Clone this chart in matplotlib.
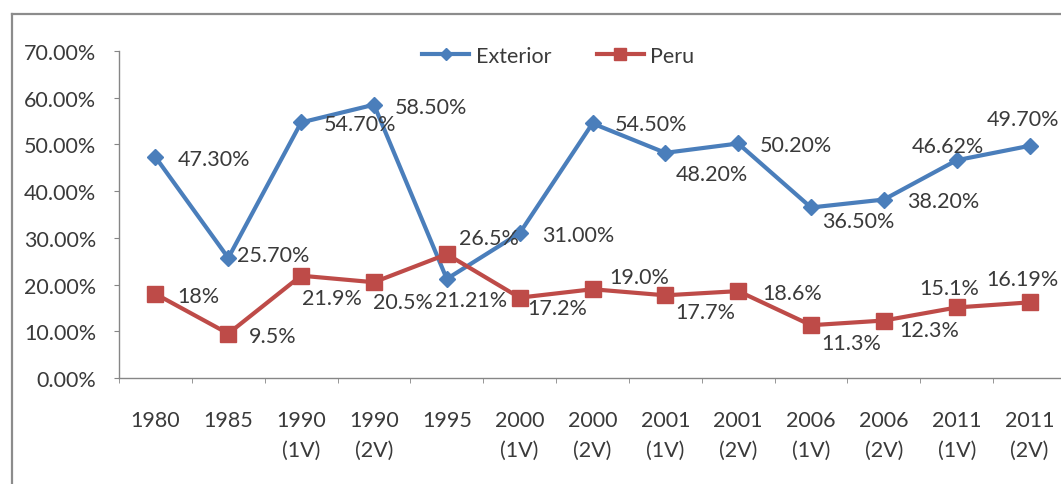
import numpy as np
import matplotlib
matplotlib.use("Agg")
import matplotlib.pyplot as plt
from matplotlib.lines import Line2D

plt.rcParams['font.family'] = ['Lato', 'DejaVu Sans']

categories = ['1980', '1985', '1990\n(1V)', '1990\n(2V)', '1995', '2000\n(1V)', '2000\n(2V)',
              '2001\n(1V)', '2001\n(2V)', '2006\n(1V)', '2006\n(2V)', '2011\n(1V)', '2011\n(2V)']
exterior = [47.30, 25.70, 54.70, 58.50, 21.21, 31.00, 54.50, 48.20, 50.20, 36.50, 38.20, 46.62, 49.70]
peru = [18.0, 9.5, 21.9, 20.5, 26.5, 17.2, 19.0, 17.7, 18.6, 11.3, 12.3, 15.1, 16.19]
exterior_labels = ['47.30%', '25.70%', '54.70%', '58.50%', '21.21%', '31.00%', '54.50%',
                   '48.20%', '50.20%', '36.50%', '38.20%', '46.62%', '49.70%']
peru_labels = ['18%', '9.5%', '21.9%', '20.5%', '26.5%', '17.2%', '19.0%',
               '17.7%', '18.6%', '11.3%', '12.3%', '15.1%', '16.19%']

# label offsets from the point, pixels (x right, y down), text left edge / vertical centre
ext_off = [(22, 2), (9, -3), (23, 2), (21, 2), (-12, 21), (22, 2), (22, 1),
           (10, 21), (22, 2), (11, 14), (23, 1), (-45, -14), (-43, -27)]
peru_off = [(22, 2), (21, 2), (1, 22), (-1, 20), (12, -16), (8, 10), (17, -12),
            (10, 17), (24, 2), (10, 18), (15, 9), (-37, -19), (-43, -23)]

BLUE = '#4A7EBB'
RED = '#BE4B48'
TXT = '#3a3a3a'
GRID = '#868686'
FS = 15.5

W, H = 1061, 485
fig = plt.figure(figsize=(W / 100, H / 100), dpi=100)
fig.patch.set_facecolor('white')

# outer chart frame (only left and top edges visible)
fig.add_artist(Line2D([12 / W, 12 / W], [0, 1 - 15 / H], color='#8c8c8c', lw=1.6))
fig.add_artist(Line2D([12 / W, 1], [1 - 15 / H, 1 - 15 / H], color='#8c8c8c', lw=1.6))

ax = fig.add_axes([119 / W, 1 - 379 / H, (1066 - 119) / W, (379 - 52) / H])
x = np.arange(len(categories))

ax.plot(x, exterior, color=BLUE, lw=3, marker='D', ms=8.5, mfc=BLUE, mec=BLUE,
        clip_on=False, zorder=3)
ax.plot(x, peru, color=RED, lw=3, marker='s', ms=11, mfc=RED, mec=RED,
        clip_on=False, zorder=3)

for xi, v, t, (dx, dy) in zip(x, exterior, exterior_labels, ext_off):
    ax.annotate(t, (xi, v), xytext=(dx, -dy), textcoords='offset pixels',
                ha='left', va='center', fontsize=FS, color=TXT, zorder=4)
for xi, v, t, (dx, dy) in zip(x, peru, peru_labels, peru_off):
    ax.annotate(t, (xi, v), xytext=(dx, -dy), textcoords='offset pixels',
                ha='left', va='center', fontsize=FS, color=TXT, zorder=4)

ax.set_xlim(-0.5, len(categories) - 0.5)
ax.set_ylim(0, 70)
ax.set_yticks(np.arange(0, 71, 10))
ax.set_yticklabels([f'{v:.2f}%' for v in np.arange(0, 71, 10)])
ax.set_xticks(x)
ax.set_xticklabels(categories, linespacing=1.6)
ax.set_xticks(np.arange(-0.5, len(categories), 1), minor=True)

for s in ['top', 'right']:
    ax.spines[s].set_visible(False)
for s in ['left', 'bottom']:
    ax.spines[s].set_color(GRID)
    ax.spines[s].set_linewidth(1)

ax.tick_params(axis='y', direction='out', length=3.6, color=GRID, pad=13,
               labelsize=FS, labelcolor=TXT)
ax.tick_params(axis='x', which='major', length=0, pad=23, labelsize=FS, labelcolor=TXT)
ax.tick_params(axis='x', which='minor', direction='out', length=3.6, color=GRID)

# legend uses smaller markers than the plot, like the original
h1 = Line2D([], [], color=BLUE, lw=3, marker='D', ms=6, mfc=BLUE, mec=BLUE)
h2 = Line2D([], [], color=RED, lw=3, marker='s', ms=8, mfc=RED, mec=RED)
fig.legend(handles=[h1, h2], labels=['Exterior', 'Peru'], loc='center left',
           bbox_to_anchor=(422 / W, 1 - 57 / H), ncol=2, frameon=False, fontsize=FS,
           handlelength=2.2, handletextpad=0.3, columnspacing=2.1, borderpad=0,
           borderaxespad=0, numpoints=1, labelcolor=TXT)

fig.savefig('out.png', dpi=100)
